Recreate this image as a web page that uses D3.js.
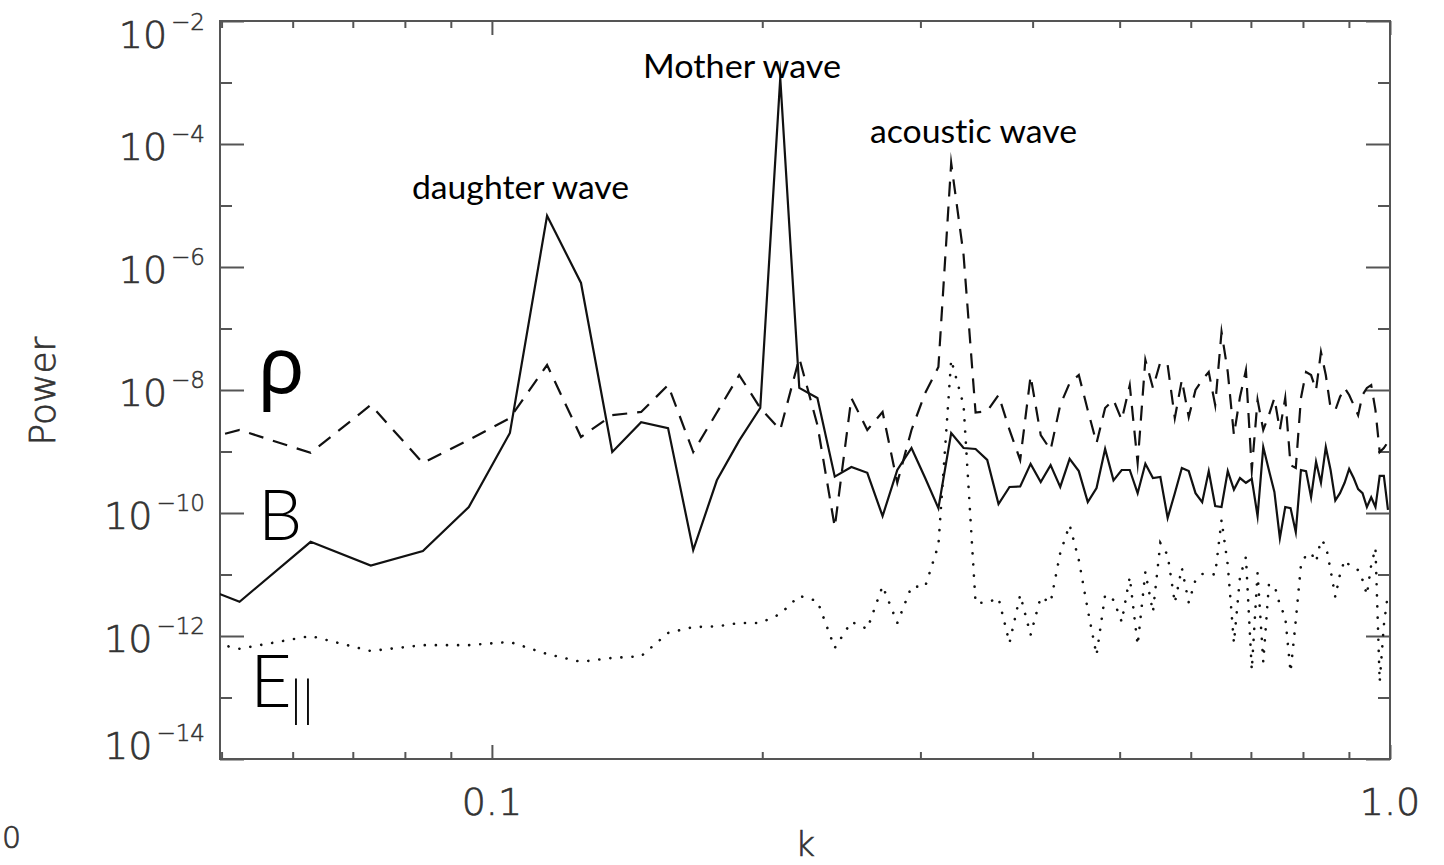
<!DOCTYPE html>
<html>
<head>
<meta charset="utf-8">
<script src="https://cdn.jsdelivr.net/npm/d3@7"></script>
<style>
    body { margin: 0; background: #fff; }
    svg { display: block; }
</style>
</head>
<body>
<svg id="chart" width="1444" height="865"></svg>
<script>
// wavenumbers of the spectrum (grid of 2*pi/600)
const kValues = [
    0.04189, 0.05236, 0.06283, 0.07330, 0.08378, 0.09425, 0.10472, 0.11519, 0.12566, 0.13614,
    0.14661, 0.15708, 0.16755, 0.17802, 0.18850, 0.19897, 0.20944, 0.21991, 0.23038, 0.24086,
    0.25133, 0.26180, 0.27227, 0.28274, 0.29322, 0.30369, 0.31416, 0.32463, 0.33510, 0.34558,
    0.35605, 0.36652, 0.37699, 0.38746, 0.39794, 0.40841, 0.41888, 0.42935, 0.43982, 0.45029,
    0.46077, 0.47124, 0.48171, 0.49218, 0.50265, 0.51313, 0.52360, 0.53407, 0.54454, 0.55501,
    0.56549, 0.57596, 0.58643, 0.59690, 0.60737, 0.61785, 0.62832, 0.63879, 0.64926, 0.65973,
    0.67021, 0.68068, 0.69115, 0.70162, 0.71209, 0.72257, 0.73304, 0.74351, 0.75398, 0.76445,
    0.77493, 0.78540, 0.79587, 0.80634, 0.81681, 0.82729, 0.83776, 0.84823, 0.85870, 0.86917,
    0.87965, 0.89012, 0.90059, 0.91106, 0.92153, 0.93201, 0.94248, 0.95295, 0.96342, 0.97389,
    0.98437, 0.99484
]

// B (solid)
const powerB = [
    1.28e-11, 3.6e-12, 3.4e-11, 1.4e-11, 2.4e-11, 1.25e-10, 2.0e-9, 6.8e-6, 5.5e-7, 9.8e-10,
    3.0e-9, 2.4e-9, 2.5e-11, 3.4e-10, 1.5e-9, 5.1e-9, 1.18e-3, 1.08e-8, 7.4e-9, 3.9e-10,
    5.6e-10, 4.5e-10, 8.9e-11, 5.0e-10, 1.14e-9, 3.7e-10, 1.2e-10, 2.0e-9, 1.14e-9, 1.1e-9,
    7.3e-10, 1.4e-10, 2.65e-10, 2.7e-10, 6.3e-10, 3.2e-10, 6.0e-10, 2.65e-10, 7.6e-10, 4.8e-10,
    1.5e-10, 2.55e-10, 1.1e-9, 3.4e-10, 5.0e-10, 5.0e-10, 2.1e-10, 6.3e-10, 3.7e-10, 3.85e-10,
    8.3e-11, 2.1e-10, 5.4e-10, 4.8e-10, 2.1e-10, 1.5e-10, 4.8e-10, 1.3e-10, 1.25e-10, 4.8e-10,
    2.4e-10, 3.7e-10, 3.1e-10, 3.6e-10, 8.9e-11, 1.18e-9, 5.0e-10, 2.2e-10, 3.9e-11, 1.25e-10,
    1.2e-10, 4.9e-11, 5.0e-10, 4.8e-10, 1.8e-10, 6.8e-10, 3.1e-10, 1.18e-9, 5.0e-10, 1.6e-10,
    2.1e-10, 3.1e-10, 5.2e-10, 3.7e-10, 2.45e-10, 2.1e-10, 1.25e-10, 1.8e-10, 1.25e-10, 4.0e-10,
    4.0e-10, 1.12e-10
]

// rho (dashed)
const powerRho = [
    9.5e-10, 2.24e-9, 9.5e-10, 5.7e-9, 6.5e-10, 1.54e-9, 3.5e-9, 2.55e-8, 1.72e-9, 3.9e-9,
    4.4e-9, 1.2e-8, 9.8e-10, 4.3e-9, 1.75e-8, 5.1e-9, 2.24e-9, 3.3e-8, 2.7e-9, 5.9e-11,
    7.4e-9, 2.24e-9, 4.4e-9, 3.1e-10, 2.24e-9, 8.9e-9, 2.37e-8, 4.9e-5, 1.57e-6, 4.3e-9,
    4.55e-9, 8.3e-9, 2.24e-9, 7.3e-10, 1.69e-8, 1.85e-9, 1.06e-9, 5.7e-9, 1.3e-8, 1.75e-8,
    4.7e-9, 1.37e-9, 5.1e-9, 6.9e-9, 3.25e-9, 1.2e-8, 6.5e-10, 3.1e-8, 1.08e-8, 2.85e-8,
    2.55e-8, 3.5e-9, 1.46e-8, 3.64e-9, 1.0e-8, 1.46e-8, 1.96e-8, 5.7e-9, 8.8e-8, 1.96e-8,
    1.85e-9, 7.7e-9, 2.1e-8, 5.0e-10, 6.9e-9, 2.24e-9, 3.9e-9, 7.4e-9, 2.24e-9, 7.4e-9,
    6.0e-10, 5.4e-10, 7.4e-9, 1.96e-8, 1.75e-8, 1.0e-8, 4.15e-8, 1.75e-8, 5.1e-9, 4.7e-9,
    7.7e-9, 1.08e-8, 8.3e-9, 5.7e-9, 3.9e-9, 8.3e-9, 1.08e-8, 1.2e-8, 4.7e-9, 9.8e-10,
    1.14e-9, 1.43e-9
]

// E parallel (dotted)
const powerE = [
    1.25e-12, 6.2e-13, 1.0e-12, 5.7e-13, 7.1e-13, 7.1e-13, 8.0e-13, 5.1e-13, 3.8e-13, 4.4e-13,
    4.7e-13, 1.12e-12, 1.4e-12, 1.43e-12, 1.63e-12, 1.63e-12, 2.28e-12, 4.5e-12, 3.7e-12, 6.4e-13,
    1.7e-12, 1.3e-12, 6.5e-12, 1.63e-12, 6.35e-12, 6.35e-12, 3.0e-11, 3.1e-8, 5.7e-9, 3.44e-12,
    3.5e-12, 4.15e-12, 7.7e-13, 4.65e-12, 1.04e-12, 4.3e-12, 3.5e-12, 2.24e-11, 6.4e-11, 1.72e-11,
    2.65e-12, 4.9e-13, 4.65e-12, 3.85e-12, 1.7e-12, 9.1e-12, 7.1e-13, 1.1e-11, 2.45e-12, 3.25e-11,
    2.07e-11, 3.44e-12, 1.28e-11, 3.5e-12, 8.15e-12, 1.02e-11, 1.02e-11, 1.0e-11, 7.7e-11, 1.43e-11,
    7.7e-13, 9.1e-12, 1.93e-11, 2.8e-13, 1.06e-11, 3.8e-13, 6.75e-12, 6.75e-12, 3.2e-12, 2.04e-12,
    2.6e-13, 1.8e-12, 1.43e-11, 2.07e-11, 2.24e-11, 1.6e-11, 3.64e-11, 3.0e-11, 1.18e-11, 4.3e-12,
    1.0e-11, 1.72e-11, 1.43e-11, 1.32e-11, 1.18e-11, 8.15e-12, 4.65e-12, 1.43e-11, 2.7e-11, 1.8e-13,
    1.5e-12, 5.0e-12
]

const yMajorExps = [-2, -4, -6, -8, -10, -12, -14]
const yMinorExps = [-3, -5, -7, -9, -11, -13]
const xMajorTicks = [0.1, 1.0]
const xMajorLabels = ['0.1', '1.0']
const xMinorTicks = [0.05, 0.06, 0.07, 0.08, 0.09, 0.2, 0.3, 0.4, 0.5, 0.6, 0.7, 0.8, 0.9]

const waveNames = ['daughter wave', 'Mother wave', 'acoustic wave']
const curveNames = ['\u03c1', 'B', 'E']

const plot = { left: 220, right: 1390, top: 21, bottom: 759 }
const axisColor = '#555'
const labelFont = '"DejaVu Sans", sans-serif'
const labelColor = '#333'

const svg = d3.select('#chart')

const x = d3.scaleLog()
    .domain([0.0498, 1.0])
    .range([plot.left, plot.right])

const y = d3.scaleLog()
    .domain([1e-14, 1e-2])
    .range([plot.bottom, plot.top])

function styleTicks (g) {
    g.select('.domain').remove()
    g.selectAll('.tick line')
        .attr('stroke', axisColor)
        .attr('stroke-width', 2)
}

// thin gray axis font, thickened a little
function axisText (sel, size) {
    sel.attr('font-family', labelFont)
        .attr('font-weight', 200)
        .attr('font-size', size)
        .attr('fill', labelColor)
        .attr('stroke', labelColor)
        .attr('stroke-width', 0.7)
}

function drawAxes (svg) {
    const gAxes = svg.append('g').attr('class', 'g-axes')
    const yMajor = yMajorExps.map(e => Math.pow(10, e))
    const yMinor = yMinorExps.map(e => Math.pow(10, e))

    // left / right, ticks pointing inward
    const sides = [
        { axis: d3.axisLeft, pos: plot.left },
        { axis: d3.axisRight, pos: plot.right }
    ]
    sides.forEach(s => {
        gAxes.append('g')
            .attr('transform', `translate(${s.pos},0)`)
            .call(s.axis(y).tickValues(yMajor).tickSize(-24).tickSizeOuter(0).tickFormat(''))
            .call(styleTicks)
        gAxes.append('g')
            .attr('transform', `translate(${s.pos},0)`)
            .call(s.axis(y).tickValues(yMinor).tickSize(-12).tickSizeOuter(0).tickFormat(''))
            .call(styleTicks)
    })

    // top / bottom
    const ends = [
        { axis: d3.axisTop, pos: plot.top },
        { axis: d3.axisBottom, pos: plot.bottom }
    ]
    ends.forEach(s => {
        gAxes.append('g')
            .attr('transform', `translate(0,${s.pos})`)
            .call(s.axis(x).tickValues(xMajorTicks).tickSize(-14).tickSizeOuter(0).tickFormat(''))
            .call(styleTicks)
        gAxes.append('g')
            .attr('transform', `translate(0,${s.pos})`)
            .call(s.axis(x).tickValues(xMinorTicks).tickSize(-7).tickSizeOuter(0).tickFormat(''))
            .call(styleTicks)
    })

    gAxes.append('rect')
        .attr('x', plot.left)
        .attr('y', plot.top)
        .attr('width', plot.right - plot.left)
        .attr('height', plot.bottom - plot.top)
        .attr('fill', 'none')
        .attr('stroke', axisColor)
        .attr('stroke-width', 2)

    // y tick labels: 10^-n, end labels are pulled inward like IDL does
    const yLabels = gAxes.append('g')
        .call(axisText, 38)
        .selectAll('text')
        .data(yMajorExps)
        .join('text')
        .attr('x', 205)
        .attr('y', e => {
            let shift = 16
            if (e === yMajorExps[0]) shift = 27
            if (e === yMajorExps[yMajorExps.length - 1]) shift = 0
            return y(Math.pow(10, e)) + shift
        })
        .attr('text-anchor', 'end')
    yLabels.append('tspan').text('10')
    yLabels.append('tspan')
        .attr('dy', -18)
        .attr('dx', 4)
        .attr('font-size', 23)
        .attr('stroke-width', 0.5)
        .text(e => '\u2212' + Math.abs(e))

    gAxes.append('g')
        .call(axisText, 38)
        .selectAll('text')
        .data(xMajorTicks)
        .join('text')
        .attr('x', d => x(d))
        .attr('y', 815)
        .attr('text-anchor', 'middle')
        .text((d, i) => xMajorLabels[i])

    gAxes.append('text')
        .call(axisText, 34)
        .attr('x', (plot.left + plot.right) / 2)
        .attr('y', 856)
        .attr('text-anchor', 'middle')
        .text('k')

    gAxes.append('text')
        .call(axisText, 36)
        .attr('transform', 'translate(55,391) rotate(-90)')
        .attr('text-anchor', 'middle')
        .text('Power')

    // stray label cut at the page edge
    gAxes.append('text')
        .call(axisText, 30)
        .attr('x', 2)
        .attr('y', 848)
        .text('0')
}

function drawSpectra (svg) {
    svg.append('clipPath')
        .attr('id', 'clip-plot')
        .append('rect')
        .attr('x', plot.left)
        .attr('y', plot.top)
        .attr('width', plot.right - plot.left)
        .attr('height', plot.bottom - plot.top)

    const line = d3.line()
        .x(d => x(d.k))
        .y(d => y(d.p))

    const series = [
        { values: powerE, dash: '0.1,11', width: 2.6, cap: 'round' },
        { values: powerRho, dash: '15,10', width: 2.2, cap: 'butt' },
        { values: powerB, dash: null, width: 2.2, cap: 'butt' }
    ]

    const gLines = svg.append('g')
        .attr('class', 'g-spectra')
        .attr('clip-path', 'url(#clip-plot)')

    series.forEach(s => {
        const pts = kValues.map((k, i) => ({ k: k, p: s.values[i] }))
        gLines.append('path')
            .datum(pts)
            .attr('d', line)
            .attr('fill', 'none')
            .attr('stroke', '#111')
            .attr('stroke-width', s.width)
            .attr('stroke-linecap', s.cap)
            .attr('stroke-linejoin', 'miter')
            .attr('stroke-miterlimit', 20)
            .attr('stroke-dasharray', s.dash)
    })
}

function drawLabels (svg) {
    const gLabels = svg.append('g').attr('class', 'g-labels')

    // peak annotations
    const annot = [
        { x: 412, y: 199, w: 217 },
        { x: 643, y: 78, w: 198 },
        { x: 870, y: 143, w: 207 }
    ]
    gLabels.selectAll('text.annot')
        .data(waveNames)
        .join('text')
        .attr('class', 'annot')
        .attr('x', (d, i) => annot[i].x)
        .attr('y', (d, i) => annot[i].y)
        .attr('textLength', (d, i) => annot[i].w)
        .attr('lengthAdjust', 'spacingAndGlyphs')
        .attr('font-family', 'Lato, "Noto Sans", sans-serif')
        .attr('font-size', 33)
        .style('font-variant-ligatures', 'none')
        .attr('fill', '#000')
        .text(d => d)

    // curve names
    gLabels.append('text')
        .attr('x', 258)
        .attr('y', 393)
        .attr('font-family', '"Noto Sans", sans-serif')
        .attr('font-weight', 400)
        .attr('font-size', 78)
        .attr('fill', '#000')
        .text(curveNames[0])

    gLabels.append('text')
        .attr('x', 258)
        .attr('y', 540)
        .attr('font-family', 'Lato, sans-serif')
        .attr('font-weight', 300)
        .attr('font-size', 70)
        .attr('fill', '#000')
        .text(curveNames[1])

    gLabels.append('text')
        .attr('x', 250)
        .attr('y', 707)
        .attr('font-family', 'Lato, sans-serif')
        .attr('font-weight', 300)
        .attr('font-size', 72)
        .attr('fill', '#000')
        .text(curveNames[2])

    gLabels.append('text')
        .attr('x', 290)
        .attr('y', 716)
        .attr('font-family', 'Lato, sans-serif')
        .attr('font-weight', 300)
        .attr('font-size', 50)
        .attr('fill', '#000')
        .text('||')
}

drawAxes(svg)
drawSpectra(svg)
drawLabels(svg)
</script>
</body>
</html>
